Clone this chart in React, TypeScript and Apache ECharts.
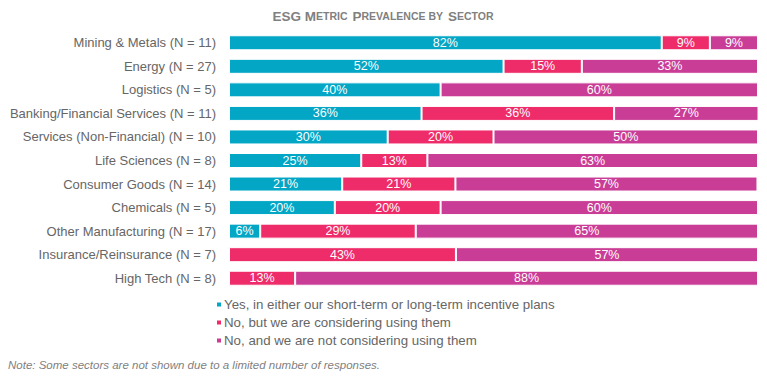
import React, { useEffect, useRef } from "react";
import * as echarts from "echarts";

const categories = [
  "Mining & Metals (N = 11)",
  "Energy (N = 27)",
  "Logistics (N = 5)",
  "Banking/Financial Services (N = 11)",
  "Services (Non-Financial) (N = 10)",
  "Life Sciences (N = 8)",
  "Consumer Goods (N = 14)",
  "Chemicals (N = 5)",
  "Other Manufacturing (N = 17)",
  "Insurance/Reinsurance (N = 7)",
  "High Tech (N = 8)",
];
const yesValues = [81.8, 51.9, 40, 36.4, 30, 25, 21.4, 20, 5.9, 0, 0];
const consideringValues = [9.1, 14.8, 0, 36.4, 20, 12.5, 21.4, 20, 29.4, 42.9, 12.5];
const notConsideringValues = [9.1, 33.3, 60, 27.3, 50, 62.5, 57.1, 60, 64.7, 57.1, 87.5];
const seriesNames = [
  "Yes, in either our short-term or long-term incentive plans",
  "No, but we are considering using them",
  "No, and we are not considering using them",
];
const colors = ["#03A6C5", "#EE2C69", "#CA3D96"];

export default function App() {
  const ref = useRef<HTMLDivElement>(null);
  useEffect(() => {
    const chart = echarts.init(ref.current!, null, { renderer: "svg" });
    const font = "'Liberation Sans', Arial, sans-serif";
    const mk = (name: string, data: number[], color: string) => ({
      name,
      type: "bar",
      stack: "total",
      data,
      barWidth: 15,
      itemStyle: { color, borderColor: "#fff", borderWidth: 1 },
      label: {
        show: true,
        position: "inside",
        color: "#fff",
        fontFamily: font,
        fontSize: 12.5,
        formatter: (p: any) => (p.value > 0 ? Math.round(p.value) + "%" : ""),
      },
    });
    chart.setOption({
      animation: false,
      title: {
        left: 383,
        textAlign: "center",
        top: 7,
        padding: 0,
        text: "{a|ESG M}{b|ETRIC} {a|P}{b|REVALENCE BY} {a|S}{b|ECTOR}",
        textStyle: {
          rich: {
            a: { fontFamily: font, fontWeight: "bold", fontSize: 13.5, color: "#808080" },
            b: { fontFamily: font, fontWeight: "bold", fontSize: 10.5, color: "#808080" },
          },
        },
      },
      grid: { left: 229, right: 9, top: 31, bottom: 89, containLabel: false },
      xAxis: { type: "value", min: 0, max: 100, show: false },
      yAxis: {
        type: "category",
        data: categories,
        inverse: true,
        axisLine: { show: false },
        axisTick: { show: false },
        axisLabel: { color: "#666666", fontFamily: font, fontSize: 13, margin: 13 },
      },
      legend: {
        orient: "vertical",
        left: 215,
        top: 298,
        padding: 0,
        itemWidth: 6,
        itemHeight: 6,
        itemGap: 5,
        icon: "rect",
        textStyle: { color: "#666666", fontFamily: font, fontSize: 13.3, padding: [0, 0, 0, -3] },
        data: seriesNames,
      },
      graphic: [
        {
          type: "text",
          left: 8,
          top: 359,
          style: {
            text: "Note: Some sectors are not shown due to a limited number of responses.",
            fill: "#7f7f7f",
            font: "italic 11.5px 'Liberation Sans', Arial, sans-serif",
          },
        },
      ],
      series: [
        mk(seriesNames[0], yesValues, colors[0]),
        mk(seriesNames[1], consideringValues, colors[1]),
        mk(seriesNames[2], notConsideringValues, colors[2]),
      ],
    });
    return () => chart.dispose();
  }, []);
  return <div ref={ref} style={{ width: 767, height: 379, margin: -8 }} />;
}
